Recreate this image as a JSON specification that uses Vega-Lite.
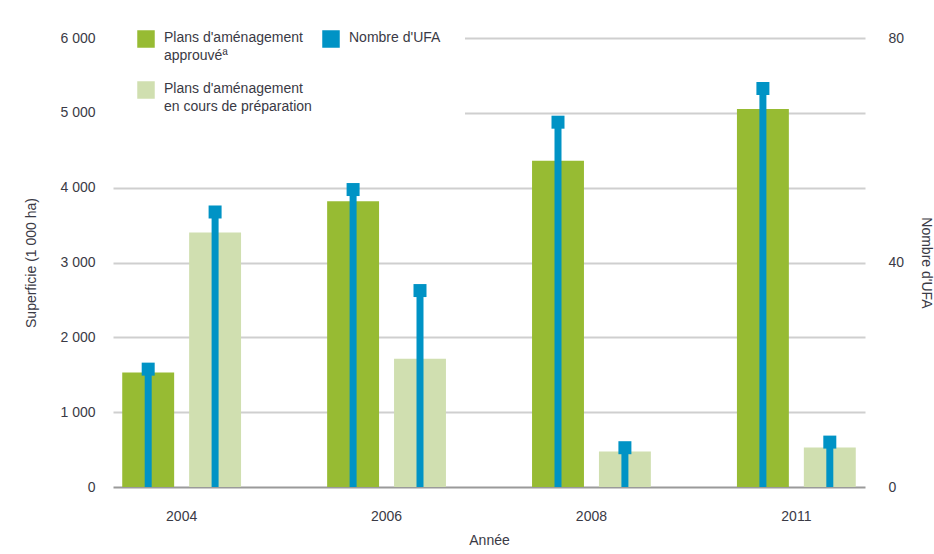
{
  "$schema": "https://vega.github.io/schema/vega-lite/v6.json",
  "width": 752,
  "height": 449,
  "autosize": {"type": "none"},
  "padding": {"left": 113, "top": 38, "right": 69, "bottom": 67},
  "background": "white",
  "config": {
    "font": "Liberation Sans",
    "view": {"stroke": null},
    "axis": {
      "labelFont": "Liberation Sans",
      "titleFont": "Liberation Sans",
      "labelFontSize": 14,
      "titleFontSize": 14,
      "titleFontWeight": "normal",
      "labelColor": "#3a3a45",
      "titleColor": "#3a3a45"
    },
    "legend": {
      "labelFont": "Liberation Sans",
      "labelFontSize": 14,
      "labelColor": "#3a3a45"
    }
  },
  "data": {
    "values": [
      {"year": "2004", "type": "approuvé", "superficie": 1530, "ufa": 21},
      {"year": "2004", "type": "préparation", "superficie": 3400, "ufa": 49},
      {"year": "2006", "type": "approuvé", "superficie": 3820, "ufa": 53},
      {"year": "2006", "type": "préparation", "superficie": 1715, "ufa": 35},
      {"year": "2008", "type": "approuvé", "superficie": 4360, "ufa": 65},
      {"year": "2008", "type": "préparation", "superficie": 475, "ufa": 7},
      {"year": "2011", "type": "approuvé", "superficie": 5050, "ufa": 71},
      {"year": "2011", "type": "préparation", "superficie": 528, "ufa": 8}
    ]
  },
  "encoding": {
    "x": {
      "field": "year",
      "type": "nominal",
      "scale": {"paddingInner": 0.33, "paddingOuter": 0},
      "axis": {
        "title": "Année",
        "labelAngle": 0,
        "domain": false,
        "ticks": false,
        "grid": false,
        "labelPadding": 22,
        "titleY": 53,
        "titleBaseline": "middle"
      }
    },
    "xOffset": {
      "field": "type",
      "type": "nominal",
      "scale": {"domain": ["approuvé", "préparation"], "paddingInner": 0.224, "paddingOuter": 0.138}
    }
  },
  "layer": [
    {
      "mark": {"type": "bar"},
      "encoding": {
        "y": {
          "field": "superficie",
          "type": "quantitative",
          "scale": {"domain": [0, 6000], "nice": false},
          "axis": {
            "title": "Superficie (1 000 ha)",
            "values": [0, 1000, 2000, 3000, 4000, 5000, 6000],
            "labelExpr": "replace(format(datum.value, ','), ',', ' ')",
            "domain": false,
            "ticks": false,
            "labelPadding": 18,
            "titleX": -75,
            "titleY": 224.5,
            "grid": true,
            "gridWidth": 2,
            "gridColor": {"condition": {"test": "datum.value === 0", "value": "#9a9a9a"}, "value": "#cfcfcf"}
          }
        },
        "color": {
          "field": "type",
          "type": "nominal",
          "scale": {
            "domain": ["approuvé", "préparation", "UFA"],
            "range": ["#97bb33", "#d0dfb0", "#0093c5"]
          },
          "legend": {
            "title": null,
            "orient": "none",
            "legendX": 0,
            "legendY": -32,
            "columns": 2,
            "columnPadding": 10,
            "rowPadding": 18,
            "symbolType": "square",
            "symbolSize": 306,
            "symbolStrokeWidth": 0,
            "labelOffset": 9,
            "labelLimit": 0,
            "labelBaseline": "top",
            "fillColor": "white",
            "padding": 24,
            "labelExpr": "datum.value == 'approuvé' ? [\"Plans d'aménagement\", \"approuvéª\"] : datum.value == 'UFA' ? [\"Nombre d'UFA\", \"\"] : [\"Plans d'aménagement\", \"en cours de préparation\"]",
            "encode": {
              "labels": {"update": {"dy": {"value": -8}, "lineHeight": {"value": 18}}}
            }
          }
        }
      }
    },
    {
      "layer": [
        {
          "mark": {"type": "rule", "color": "#0093c5", "strokeWidth": 7},
          "encoding": {
            "y": {
              "field": "ufa",
              "type": "quantitative",
              "scale": {"domain": [0, 80], "nice": false},
              "axis": {
                "orient": "right",
                "title": "Nombre d'UFA",
                "values": [0, 40, 80],
                "domain": false,
                "ticks": false,
                "grid": false,
                "labelPadding": 23,
                "titleX": 60,
                "titleY": 224.5,
                "titleBaseline": "middle"
              }
            },
            "y2": {"datum": 0}
          }
        },
        {
          "mark": {"type": "point", "shape": "square", "filled": true, "color": "#0093c5", "size": 169, "opacity": 1},
          "encoding": {
            "y": {"field": "ufa", "type": "quantitative"}
          }
        }
      ]
    }
  ],
  "resolve": {"scale": {"y": "independent"}}
}
